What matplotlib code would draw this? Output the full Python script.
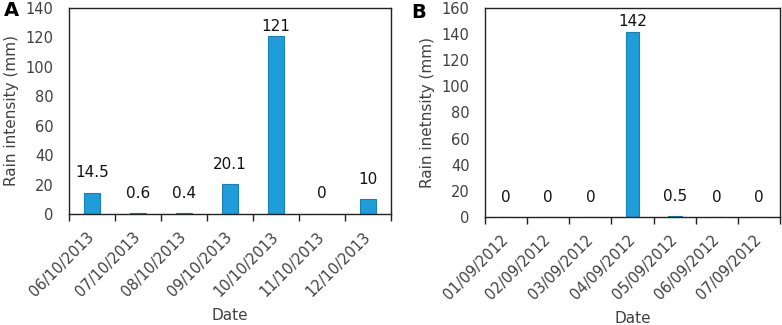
import matplotlib
matplotlib.use("Agg")
import matplotlib.pyplot as plt
import numpy as np

dates_a = ["06/10/2013", "07/10/2013", "08/10/2013", "09/10/2013",
           "10/10/2013", "11/10/2013", "12/10/2013"]
rain_a = [14.5, 0.6, 0.4, 20.1, 121, 0, 10]
labels_a = ["14.5", "0.6", "0.4", "20.1", "121", "0", "10"]

dates_b = ["01/09/2012", "02/09/2012", "03/09/2012", "04/09/2012",
           "05/09/2012", "06/09/2012", "07/09/2012"]
rain_b = [0, 0, 0, 142, 0.5, 0, 0]
labels_b = ["0", "0", "0", "142", "0.5", "0", "0"]

plt.rcParams['font.family'] = ['DejaVu Sans']
W, H = 782, 325
fig = plt.figure(figsize=(W / 100, H / 100), dpi=100)

bar_color = "#1f9ddb"
edge_color = "#1a7fb5"
text_gray = "#404040"

def panel(rect, cats, vals, labs, ymax, ylabel, letter, letter_xy):
    ax = fig.add_axes(rect)
    x = np.arange(len(cats))
    ax.bar(x, vals, width=0.33, color=bar_color, edgecolor=edge_color, linewidth=0.8)
    ax.set_xlim(-0.5, len(cats) - 0.5)
    ax.set_ylim(0, ymax)
    ax.set_yticks(np.arange(0, ymax + 1, 20))
    ax.tick_params(axis='y', length=0, labelsize=10.5, labelcolor=text_gray, pad=11)
    ax.set_xticks(np.arange(-0.5, len(cats), 1.0))
    ax.set_xticklabels([])
    ax.set_xticks(x, minor=True)
    ax.set_xticklabels(cats, minor=True, rotation=45, ha='right', va='center',
                       rotation_mode='anchor', fontsize=10.5, color=text_gray)
    ax.tick_params(axis='x', which='major', length=5, width=1, color="#222222", direction='out')
    ax.tick_params(axis='x', which='minor', length=0, pad=15)
    for s in ax.spines.values():
        s.set_color("#222222")
        s.set_linewidth(1.0)
    for xi, v, lab in zip(x, vals, labs):
        off = 1.5 if v > 100 else 9
        ax.annotate(lab, (xi, v), xytext=(0, off), textcoords='offset points',
                    ha='center', va='bottom', fontsize=11, color="#111111")
    ax.set_ylabel(ylabel, fontsize=11, color=text_gray, labelpad=5)
    ax.set_xlabel("Date", fontsize=11, color=text_gray, labelpad=6)
    fig.text(letter_xy[0] / W, 1 - letter_xy[1] / H, letter, fontsize=14, fontweight='bold',
             ha='left', va='top')
    return ax

panel([69 / W, 1 - 214 / H, (391 - 69) / W, (214 - 8) / H], dates_a, rain_a, labels_a,
      140, "Rain intensity (mm)", "A", (4, 1))
panel([485 / W, 1 - 217 / H, (780 - 485) / W, (217 - 8) / H], dates_b, rain_b, labels_b,
      160, "Rain inetnsity (mm)", "B", (411, 3))

fig.savefig("out.png", dpi=100)
